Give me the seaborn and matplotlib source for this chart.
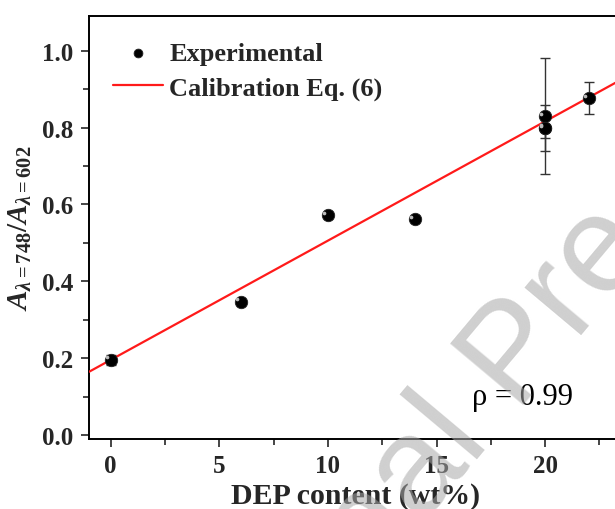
import numpy as np
import pandas as pd
import matplotlib
matplotlib.use("Agg")
import matplotlib.pyplot as plt
import seaborn as sns
from matplotlib.ticker import MultipleLocator

# ---- data ----
dep_content = [0, 6, 10, 14, 20, 20, 20, 22]
ratio = [0.197, 0.347, 0.572, 0.561, 0.830, 0.799, 0.800, 0.877]
ratio_err = [0.013, 0.0, 0.0, 0.0, 0.150, 0.060, 0.027, 0.042]
calib_slope = 0.031
calib_intercept = 0.196
calib_x = [-1.0, 23.5]
x_ticks = [0, 5, 10, 15, 20]
y_ticks = [0.0, 0.2, 0.4, 0.6, 0.8, 1.0]

sns.set_theme(style="ticks")
plt.rcParams['font.family'] = ['Liberation Serif', 'DejaVu Serif']
plt.rcParams['mathtext.fontset'] = 'custom'
plt.rcParams['mathtext.rm'] = 'Liberation Serif:bold'
plt.rcParams['mathtext.it'] = 'Liberation Serif:bold:italic'
plt.rcParams['mathtext.bf'] = 'Liberation Serif:bold'

fig = plt.figure(figsize=(6.15, 5.1), dpi=100)
ax = fig.add_axes([0.1447, 0.137, 0.8653, 0.8297])

df = pd.DataFrame({"x": dep_content, "y": ratio, "err": ratio_err})
cal = pd.DataFrame({"x": calib_x,
                    "y": [calib_intercept + calib_slope * v for v in calib_x]})

# error bars
ax.errorbar(df["x"], df["y"], yerr=df["err"], fmt="none", ecolor="#333333",
            elinewidth=1.0, capsize=3.5, capthick=1.0, zorder=2)

sns.lineplot(data=cal, x="x", y="y", color="#ff1a1a", linewidth=1.6, ax=ax,
             zorder=3, label="Calibration Eq. (6)", legend=False)
sns.scatterplot(data=df, x="x", y="y", color="black", s=80, edgecolor="#222222",
                linewidth=0.6, ax=ax, zorder=4, label="Experimental", legend=False)
# small highlight for sphere-like markers
ax.scatter(np.array(dep_content) - 0.17, np.array(ratio) + 0.006, s=7,
           color="#bbbbbb", zorder=5, linewidths=0)

ax.set_xlim(-1.0, 23.5)
ax.set_ylim(-0.01, 1.09)
ax.set_xticks(x_ticks)
ax.set_yticks(y_ticks)
ax.set_yticklabels([f"{v:.1f}" for v in y_ticks])
ax.xaxis.set_minor_locator(MultipleLocator(2.5))
ax.yaxis.set_minor_locator(MultipleLocator(0.1))
ax.tick_params(axis="both", which="major", direction="out", length=6, width=1.2,
               labelsize=18, pad=5)
ax.tick_params(axis="both", which="minor", direction="out", length=4, width=1.2)
for lab in ax.get_xticklabels() + ax.get_yticklabels():
    lab.set_fontweight("bold")

for s in ["left", "bottom", "top"]:
    ax.spines[s].set_linewidth(1.4)
    ax.spines[s].set_color("black")
ax.spines["right"].set_visible(False)

ax.set_xlabel("DEP content (wt%)", fontsize=21.5, fontweight="bold", labelpad=3)
ax.set_ylabel(r"$A_{\lambda\mathrm{=748}}/A_{\lambda\mathrm{=602}}$", fontsize=21, labelpad=6)

handles, labels = ax.get_legend_handles_labels()
order = [labels.index("Experimental"), labels.index("Calibration Eq. (6)")]
leg = ax.legend([handles[i] for i in order], [labels[i] for i in order],
                loc="upper left", bbox_to_anchor=(0.0, 0.995), frameon=False,
                prop={"family": "Liberation Serif", "weight": "bold", "size": 19},
                handlelength=1.9, handletextpad=0.25, labelspacing=0.4,
                borderaxespad=0.5)
leg.legend_handles[0].set_sizes([40])

ax.text(0.72, 0.083, "ρ = 0.99", transform=ax.transAxes, fontsize=22,
        color="black", ha="left", va="baseline")

# watermark (drawn on top, semi-transparent)
fig.text(0.324, -0.551, "Journal Pre-proof", fontsize=100, color="#a8a8a8",
         alpha=0.55, rotation=50, family="Liberation Sans", ha="left",
         va="baseline", zorder=10, rotation_mode="anchor")

fig.savefig("out.png", dpi=100)
